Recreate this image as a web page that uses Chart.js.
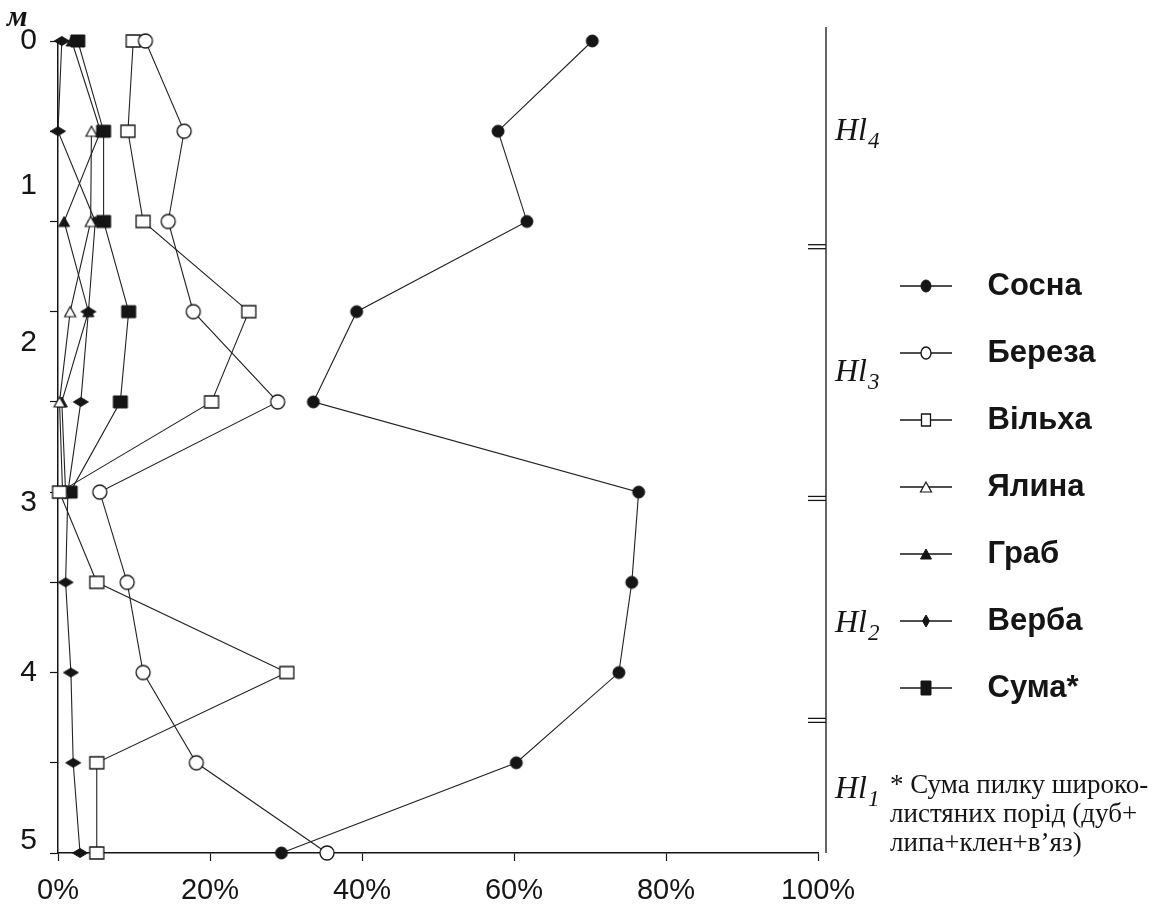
<!DOCTYPE html>
<html><head><meta charset="utf-8">
<script src="https://cdn.jsdelivr.net/npm/chart.js@4.4.0/dist/chart.umd.min.js"></script>
<style>html,body{margin:0;padding:0;background:#fff;}canvas{display:block;}</style>
</head><body>
<canvas id="c" width="1166" height="908" style="width:1166px;height:908px"></canvas>
<script>
// ---- data (sample index 0 = top of section, 9 = bottom) ----
const samples = [0, 1, 2, 3, 4, 5, 6, 7, 8, 9];
const seriesNames = ['Сосна', 'Береза', 'Вільха', 'Ялина', 'Граб', 'Верба', 'Сума*'];
const sosna  = [70.3, 57.9, 61.7, 39.3, 33.6, 76.4, 75.5, 73.8, 60.3, 29.4];
const bereza = [11.5, 16.6, 14.5, 17.8, 28.9, 5.5, 9.1, 11.2, 18.2, 35.4];
const vilkha = [9.9, 9.2, 11.2, 25.1, 20.2, 0.2, 5.1, 30.1, 5.1, 5.1];
const yalyna = [null, 4.4, 4.3, 1.6, 0.2, 0.6, null, null, null, null];
const hrab   = [1.8, 5.6, 0.8, 4.0, 0.5, 1.0, null, null, null, null];
const verba  = [0.5, 0.0, 4.9, 4.0, 3.0, 1.3, 1.0, 1.7, 2.0, 2.9];
const suma   = [2.6, 6.0, 6.0, 9.3, 8.2, 1.6, null, null, null, null];
const xTicks = [0, 20, 40, 60, 80, 100];
const depthLabels = ['0', '1', '2', '3', '4', '5'];
const depthLabelAt = [0, 1.6, 3.34, 5.12, 7, 8.86];
const zoneSubs = ['4', '3', '2', '1'];
const zoneLabelAt = [0.98, 3.65, 6.43, 8.27];
const zoneBreaks = [2.28, 5.07, 7.53];
const zoneTop = -0.155;
const footnote = ['* Сума пилку широко-', 'листяних порід (дуб+', 'липа+клен+в’яз)'];

const seriesValues = [sosna, bereza, vilkha, yalyna, hrab, verba, suma];

// ---- styles ----
const INK = '#151515';
const styles = [
  {shape: 'circle',   filled: true,  w: 12, h: 12, lw: 1,   lg: [10, 12]},
  {shape: 'circle',   filled: false, w: 14, h: 14, lw: 1.3, lg: [10, 12]},
  {shape: 'rect',     filled: false, w: 14, h: 12, lw: 1.3, lg: [9, 12]},
  {shape: 'triangle', filled: false, w: 11, h: 10, lw: 1.2, lg: [11, 10]},
  {shape: 'triangle', filled: true,  w: 11, h: 10, lw: 1,   lg: [11, 10]},
  {shape: 'diamond',  filled: true,  w: 15, h: 9,  lw: 1,   lg: [7, 12]},
  {shape: 'rect',     filled: true,  w: 14, h: 12, lw: 1,   lg: [10, 14]}
];
function pathShape(g, shape, w, h) {
  g.beginPath();
  if (shape === 'circle') g.ellipse(0, 0, w / 2, h / 2, 0, 0, Math.PI * 2);
  else if (shape === 'rect') g.rect(-w / 2, -h / 2, w, h);
  else if (shape === 'triangle') { g.moveTo(0, -h / 2); g.lineTo(w / 2, h / 2); g.lineTo(-w / 2, h / 2); g.closePath(); }
  else if (shape === 'diamond') { g.moveTo(0, -h / 2); g.lineTo(w / 2, 0); g.lineTo(0, h / 2); g.lineTo(-w / 2, 0); g.closePath(); }
}
function paintShape(g, s, w, h) {
  pathShape(g, s.shape, w, h);
  g.fillStyle = s.filled ? INK : '#fff';
  g.fill();
  g.lineWidth = s.lw; g.strokeStyle = INK; g.stroke();
}
function even(n) { n = Math.ceil(n); return n % 2 ? n + 1 : n; }
function makeMarker(s) {
  const c = document.createElement('canvas');
  c.width = even(s.w + 4); c.height = even(s.h + 4);
  const g = c.getContext('2d');
  g.translate(c.width / 2, c.height / 2);
  paintShape(g, s, s.w, s.h);
  return c;
}
const ICON_W = 72, ICON_LINE = 52;
function makeLegendIcon(s) {
  const c = document.createElement('canvas');
  c.width = ICON_W; c.height = 20;
  const g = c.getContext('2d');
  g.strokeStyle = INK; g.lineWidth = 1.3;
  g.beginPath(); g.moveTo(0, 10); g.lineTo(ICON_LINE, 10); g.stroke();
  g.save(); g.translate(ICON_LINE / 2, 10); paintShape(g, s, s.lg[0], s.lg[1]); g.restore();
  return c;
}
const markers = styles.map(makeMarker);
const legendIcons = styles.map(makeLegendIcon);

// ---- layout ----
const SANS = "'Liberation Sans', Arial, sans-serif";
const LF = {family: SANS, size: 31, weight: 'bold'};
const LEG_PAD = 36;
const PLOT_RIGHT = 818, LEGEND_BOX_X = 900;
const mctx = document.createElement('canvas').getContext('2d');
mctx.font = 'bold ' + LF.size + 'px ' + LF.family;
const maxTextW = Math.max(...seriesNames.map(t => mctx.measureText(t).width));
const legendW = LEG_PAD + ICON_W + LF.size / 2 + maxTextW + 10;
const legendLeft = LEGEND_BOX_X - LEG_PAD;
const SPACER = legendLeft - PLOT_RIGHT;
const PAD_RIGHT = 1166 - legendLeft - legendW;

const yTickValues = Array.from(new Set(samples.concat(depthLabelAt))).sort((a, b) => a - b);

const annot = {
  id: 'annot',
  afterDraw(chart) {
    const {ctx, chartArea: ca, scales: {y}} = chart;
    ctx.save();
    ctx.fillStyle = INK; ctx.strokeStyle = INK; ctx.textAlign = 'left';
    ctx.font = 'italic bold 30px "Liberation Serif", serif';
    ctx.textBaseline = 'alphabetic';
    ctx.fillText('м', 7, 26);
    const zx = ca.right + 8;
    ctx.lineWidth = 1.3;
    ctx.beginPath();
    ctx.moveTo(zx, y.getPixelForValue(zoneTop));
    ctx.lineTo(zx, y.getPixelForValue(samples[samples.length - 1]));
    ctx.stroke();
    zoneBreaks.forEach(b => {
      const py = y.getPixelForValue(b);
      [-2, 2].forEach(d => { ctx.beginPath(); ctx.moveTo(zx - 18, py + d); ctx.lineTo(zx, py + d); ctx.stroke(); });
    });
    zoneSubs.forEach((n, i) => {
      const py = y.getPixelForValue(zoneLabelAt[i]);
      ctx.font = 'italic 32px "Liberation Serif", serif';
      ctx.fillText('Hl', zx + 9, py + 11);
      const w = ctx.measureText('Hl').width;
      ctx.font = 'italic 23px "Liberation Serif", serif';
      ctx.fillText(n, zx + 10 + w, py + 19);
    });
    ctx.font = '27px "Liberation Serif", serif';
    ctx.textBaseline = 'middle';
    const fy = y.getPixelForValue(zoneLabelAt[3]);
    footnote.forEach((t, i) => ctx.fillText(t, ca.right + 72, fy - 1 + i * 29));
    ctx.restore();
  }
};

new Chart(document.getElementById('c'), {
  type: 'scatter',
  data: {
    datasets: seriesValues.map((vals, k) => ({
      label: seriesNames[k],
      data: samples.map((s, i) => ({x: vals[i], y: s})).filter(p => p.x !== null),
      showLine: true,
      borderColor: '#222',
      borderWidth: 1.1,
      pointStyle: markers[k],
      pointRadius: 7,
      pointHoverRadius: 7,
      clip: false
    }))
  },
  options: {
    responsive: false,
    animation: false,
    events: [],
    devicePixelRatio: 1,
    layout: {padding: {top: 41, left: 0, right: PAD_RIGHT, bottom: 0}},
    scales: {
      x: {
        type: 'linear', position: 'bottom', min: 0, max: 100,
        afterBuildTicks: s => { s.ticks = xTicks.map(v => ({value: v})); },
        ticks: {callback: v => v + '%', font: {family: SANS, size: 29}, color: INK, padding: 13, maxRotation: 0, autoSkip: false},
        grid: {display: true, drawOnChartArea: false, drawTicks: true, tickLength: 8, tickColor: INK, tickWidth: 1.2},
        border: {display: true, color: INK, width: 1.5},
        afterFit: s => { s.height = 55; }
      },
      y: {
        type: 'linear', position: 'left', min: 0, max: 9, reverse: true,
        afterBuildTicks: s => { s.ticks = yTickValues.map(v => ({value: v})); },
        ticks: {
          autoSkip: false, font: {family: SANS, size: 30}, color: INK, padding: 13,
          callback: v => { const i = depthLabelAt.indexOf(v); return i >= 0 ? depthLabels[i] : ''; }
        },
        grid: {
          display: true, drawOnChartArea: false, drawTicks: true, tickLength: 8, tickWidth: 1.2,
          tickColor: c => samples.includes(c.tick.value) ? INK : 'rgba(0,0,0,0)'
        },
        border: {display: true, color: INK, width: 1.5},
        afterFit: s => { s.width = 58; }
      },
      sp: {
        type: 'linear', position: 'right', display: true,
        grid: {display: false}, border: {display: false}, ticks: {display: false},
        afterFit: s => { s.width = SPACER; }
      }
    },
    plugins: {
      tooltip: {enabled: false},
      legend: {
        position: 'right', align: 'center', fullSize: true, maxWidth: 600,
        title: {display: true, text: ' ', padding: 0, font: {size: 20, lineHeight: 1.25}},
        labels: {
          usePointStyle: true, pointStyleWidth: ICON_W, padding: LEG_PAD, font: LF, color: INK,
          generateLabels: chart => {
            const items = Chart.defaults.plugins.legend.labels.generateLabels(chart);
            items.forEach((it, i) => { it.pointStyle = legendIcons[i]; it.fontColor = INK; });
            return items;
          }
        }
      }
    }
  },
  plugins: [annot]
});
</script>
</body></html>
